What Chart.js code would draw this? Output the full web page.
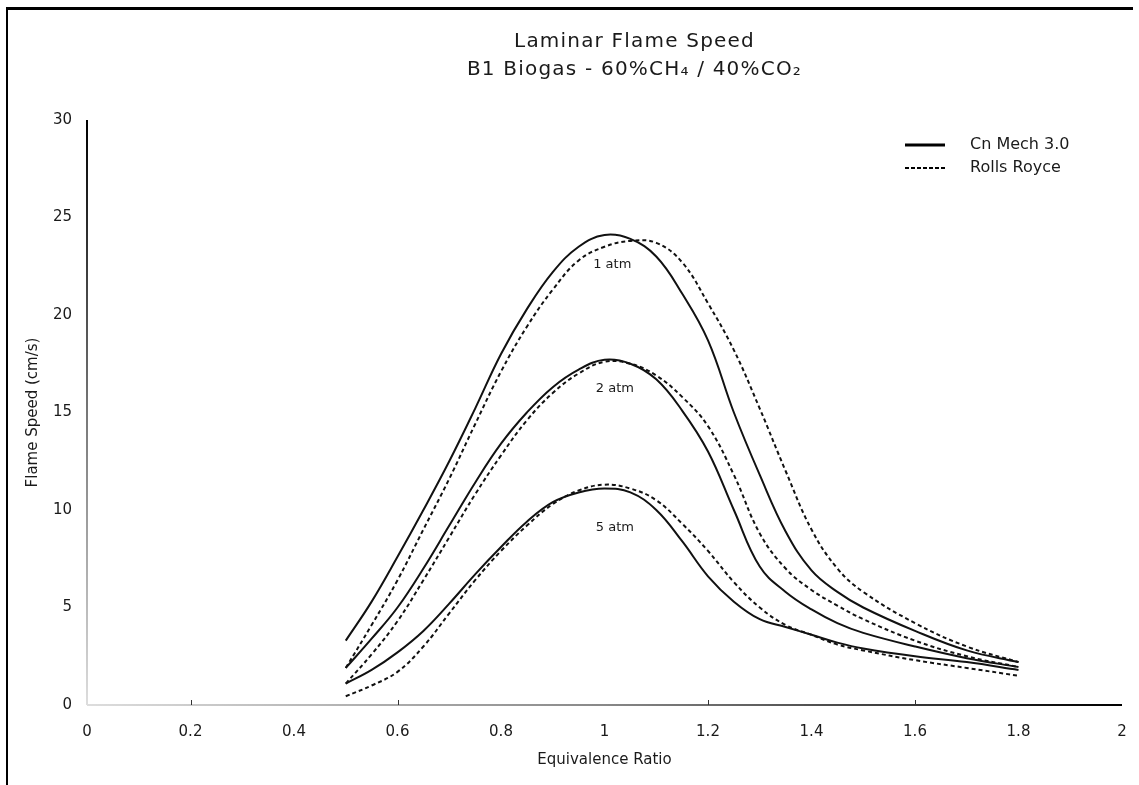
<!DOCTYPE html>
<html>
<head>
<meta charset="utf-8">
<title>Laminar Flame Speed</title>
<script src="https://cdn.jsdelivr.net/npm/chart.js@4.4.1/dist/chart.umd.min.js"></script>
<style>
  html, body { margin: 0; padding: 0; background: #fff; }
  #wrap { width: 1139px; height: 785px; position: relative; }
</style>
</head>
<body>
<div id="wrap"><canvas id="flame-chart"></canvas></div>
<script>
// data: equivalence ratio vs flame speed (cm/s)
const phi = [0.5, 0.55, 0.6, 0.65, 0.7, 0.75, 0.8, 0.85, 0.9, 0.95, 1.0, 1.05,
  1.1, 1.15, 1.2, 1.25, 1.3, 1.35, 1.4, 1.45, 1.5, 1.6, 1.7, 1.8];

const mech1atm = [3.3, 5.3, 7.6, 10.0, 12.5, 15.2, 18.0, 20.3, 22.2, 23.5, 24.1, 23.9,
  23.0, 21.1, 18.7, 15.0, 11.8, 8.9, 6.9, 5.8, 5.0, 3.8, 2.8, 2.2];
const rr1atm = [1.9, 4.1, 6.4, 9.0, 11.6, 14.4, 17.1, 19.4, 21.3, 22.8, 23.5, 23.8,
  23.7, 22.7, 20.6, 18.2, 15.2, 12.0, 9.0, 7.0, 5.8, 4.2, 3.0, 2.2];

const mech2atm = [1.9, 3.4, 5.0, 7.0, 9.2, 11.4, 13.4, 15.0, 16.3, 17.2, 17.7, 17.5,
  16.7, 15.1, 13.0, 10.0, 7.1, 5.8, 4.9, 4.2, 3.7, 3.0, 2.4, 1.95];
const rr2atm = [1.1, 2.6, 4.3, 6.4, 8.6, 10.8, 12.8, 14.6, 16.0, 17.0, 17.6, 17.5,
  16.9, 15.8, 14.3, 11.8, 8.8, 7.0, 5.9, 5.1, 4.4, 3.3, 2.5, 1.95];

const mech5atm = [1.1, 1.8, 2.7, 3.8, 5.2, 6.7, 8.1, 9.4, 10.4, 10.9, 11.1, 10.9,
  10.0, 8.4, 6.6, 5.3, 4.4, 4.0, 3.6, 3.2, 2.9, 2.5, 2.2, 1.8];
const rr5atm = [0.45, 1.0, 1.7, 3.0, 4.7, 6.4, 7.9, 9.2, 10.3, 11.0, 11.3, 11.1,
  10.5, 9.3, 7.9, 6.3, 5.0, 4.1, 3.6, 3.1, 2.8, 2.3, 1.9, 1.5];

const xTicks = [0, 0.2, 0.4, 0.6, 0.8, 1, 1.2, 1.4, 1.6, 1.8, 2];
const yTicks = [0, 5, 10, 15, 20, 25, 30];
const legendNames = ['Cn Mech 3.0', 'Rolls Royce'];
const curveLabels = [
  { text: '1 atm', x: 1.015, y: 22.6 },
  { text: '2 atm', x: 1.02, y: 16.2 },
  { text: '5 atm', x: 1.02, y: 9.1 },
];
const titleLines = ['Laminar Flame Speed', 'B1 Biogas - 60%CH\u2084 / 40%CO\u2082'];

const FONT = '"DejaVu Sans", "Liberation Sans", sans-serif';
const INK = '#1a1a1a';

function pts(values) {
  return values.map((v, i) => ({ x: phi[i], y: v }));
}

function series(name, values, dashed) {
  return {
    label: name,
    data: pts(values),
    borderColor: '#111',
    borderWidth: 2,
    borderDash: dashed ? [4, 3] : [],
    pointRadius: 0,
    fill: false,
    tension: 0.4,
  };
}

// frame, titles, axis lines, curve labels and legend
const decorations = {
  id: 'decorations',
  beforeDatasetsDraw(chart) {
    const { ctx, chartArea: a } = chart;
    ctx.save();
    // y axis: dark at top, fading toward bottom
    let g = ctx.createLinearGradient(0, a.top, 0, a.bottom);
    g.addColorStop(0, '#000');
    g.addColorStop(0.5, '#777');
    g.addColorStop(1, '#ddd');
    ctx.strokeStyle = g;
    ctx.lineWidth = 2;
    ctx.beginPath();
    ctx.moveTo(a.left, a.top);
    ctx.lineTo(a.left, a.bottom);
    ctx.stroke();
    // x axis: light at left, dark at right
    g = ctx.createLinearGradient(a.left, 0, a.right, 0);
    g.addColorStop(0, '#ddd');
    g.addColorStop(0.5, '#888');
    g.addColorStop(1, '#000');
    ctx.strokeStyle = g;
    ctx.beginPath();
    ctx.moveTo(a.left, a.bottom);
    ctx.lineTo(a.right, a.bottom);
    ctx.stroke();
    // a few small tick marks on the x axis
    const xs = chart.scales.x;
    ctx.strokeStyle = '#333';
    ctx.lineWidth = 1;
    [0.2, 0.6, 1.2, 1.6].forEach(v => {
      const px = Math.round(xs.getPixelForValue(v)) + 0.5;
      ctx.beginPath();
      ctx.moveTo(px, a.bottom);
      ctx.lineTo(px, a.bottom - 5);
      ctx.stroke();
    });
    ctx.restore();
  },
  afterDraw(chart) {
    const { ctx, chartArea: a, scales } = chart;
    ctx.save();
    // outer frame (top and left edges)
    ctx.fillStyle = '#000';
    ctx.fillRect(6, 7, 1127, 3);
    ctx.fillRect(6, 7, 2, 778);

    // title
    ctx.fillStyle = INK;
    ctx.textAlign = 'center';
    ctx.textBaseline = 'middle';
    ctx.font = '20px ' + FONT;
    ctx.letterSpacing = '1.2px';
    const cx = (a.left + a.right) / 2 + 30;
    ctx.fillText(titleLines[0], cx, 42);
    ctx.fillText(titleLines[1], cx, 70);
    ctx.letterSpacing = '0px';

    // pressure labels on the curves
    ctx.font = '13px ' + FONT;
    curveLabels.forEach(l => {
      ctx.fillText(l.text, scales.x.getPixelForValue(l.x), scales.y.getPixelForValue(l.y));
    });

    // legend inside plot, top right
    const lx = a.right - 217;
    const rows = [a.top + 25, a.top + 48];
    ctx.strokeStyle = '#000';
    ctx.lineWidth = 3;
    ctx.beginPath();
    ctx.moveTo(lx, rows[0]);
    ctx.lineTo(lx + 40, rows[0]);
    ctx.stroke();
    ctx.lineWidth = 2;
    ctx.setLineDash([4, 2]);
    ctx.beginPath();
    ctx.moveTo(lx, rows[1]);
    ctx.lineTo(lx + 40, rows[1]);
    ctx.stroke();
    ctx.setLineDash([]);
    ctx.textAlign = 'left';
    ctx.font = '16px ' + FONT;
    legendNames.forEach((n, i) => ctx.fillText(n, lx + 65, rows[i]));
    ctx.restore();
  },
};

const chartCanvas = document.getElementById('flame-chart').getContext('2d');

const config = {
  type: 'line',
  data: {
    datasets: [
      series('Cn Mech 3.0 1 atm', mech1atm, false),
      series('Rolls Royce 1 atm', rr1atm, true),
      series('Cn Mech 3.0 2 atm', mech2atm, false),
      series('Rolls Royce 2 atm', rr2atm, true),
      series('Cn Mech 3.0 5 atm', mech5atm, false),
      series('Rolls Royce 5 atm', rr5atm, true),
    ],
  },
  options: {
    responsive: true,
    maintainAspectRatio: false,
    animation: false,
    layout: { padding: { left: 20, right: 17, top: 120, bottom: 0 } },
    plugins: {
      legend: { display: false },
      title: { display: false },
      tooltip: { enabled: false },
    },
    scales: {
      x: {
        type: 'linear',
        min: 0,
        max: 2,
        afterBuildTicks: s => { s.ticks = xTicks.map(v => ({ value: v })); },
        afterFit: s => { s.height = 80; s.paddingLeft = 0; s.paddingRight = 0; },
        grid: { display: false, drawTicks: false },
        border: { display: false },
        ticks: {
          padding: 18,
          color: INK,
          font: { family: FONT, size: 15 },
          callback: v => String(v),
        },
        title: {
          display: true,
          text: 'Equivalence Ratio',
          color: INK,
          font: { family: FONT, size: 15 },
          padding: { top: 0, bottom: 16 },
        },
      },
      y: {
        min: 0,
        max: 30,
        afterBuildTicks: s => { s.ticks = yTicks.map(v => ({ value: v })); },
        afterFit: s => { s.width = 67; s.paddingTop = 0; s.paddingBottom = 0; },
        grid: { display: false, drawTicks: false },
        border: { display: false },
        ticks: {
          padding: 15,
          color: INK,
          font: { family: FONT, size: 15 },
        },
        title: {
          display: true,
          text: 'Flame Speed (cm/s)',
          color: INK,
          font: { family: FONT, size: 15 },
          padding: { top: 4, bottom: 4 },
        },
      },
    },
  },
  plugins: [decorations],
};

const flameChart = new Chart(chartCanvas, config);
</script>
</body>
</html>
